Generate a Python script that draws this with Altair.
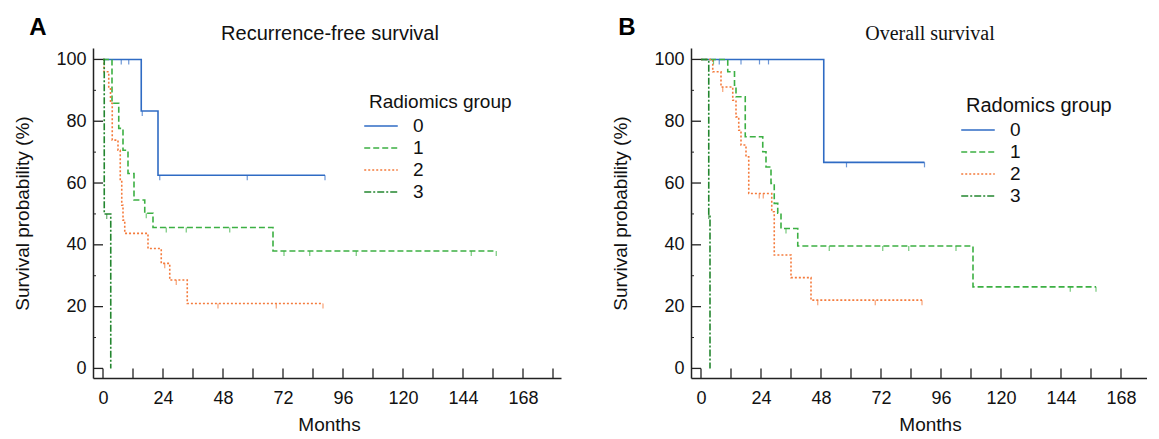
import altair as alt
import pandas as pd

# ---------------- data ----------------
GROUPS = ["0", "1", "2", "3"]
COLORS = ["#2f6bc4", "#3cb043", "#f47b3c", "#23862f"]
DASHES = [[1, 0], [6, 3], [2, 2], [7, 2, 2, 2]]

X_TICKS = [0, 12, 24, 36, 48, 60, 72, 84, 96, 108, 120, 132, 144, 156, 168, 180]
X_LABELS = [0, 24, 48, 72, 96, 120, 144, 168]
Y_LABELS = [0, 20, 40, 60, 80, 100]
Y_MINOR = [10, 30, 50, 70, 90]

# Panel A: recurrence-free survival (months, survival %)
rfs0_t = [0, 15.3, 22.0, 88.8]
rfs0_s = [100, 83.3, 62.5, 62.5]
rfs1_t = [0, 3.6, 6.3, 8.0, 10.0, 12.4, 16.7, 20.0, 68.0, 157.3]
rfs1_s = [100, 85.8, 77.7, 70.6, 63.1, 54.5, 50.2, 45.6, 38.0, 38.0]
rfs2_t = [0, 0.4, 2.3, 3.0, 3.7, 6.0, 6.9, 7.5, 8.0, 8.7, 18.0, 23.3, 26.7, 33.7, 88.0]
rfs2_s = [100, 96.0, 91.1, 85.8, 73.9, 70.6, 60.9, 52.8, 48.0, 43.7, 38.8, 34.0, 28.6, 21.0, 21.0]
rfs3_t = [0, 0.5, 3.1]
rfs3_s = [100, 50, 0]

# censored observations
rfs0_ct = [7.3, 10.3, 15.7, 22.7, 57.7, 88.8]
rfs0_cs = [100, 100, 83.3, 62.5, 62.5, 62.5]
rfs1_ct = [17.3, 25.3, 33.3, 50.7, 72.4, 82.7, 101.3, 147.3, 157.3]
rfs1_cs = [50.2, 45.6, 45.6, 45.6, 38.0, 38.0, 38.0, 38.0, 38.0]
rfs2_ct = [24.7, 29.3, 46.0, 69.3, 88.0]
rfs2_cs = [34.0, 28.6, 21.0, 21.0, 21.0]
rfs3_ct = [1.5]
rfs3_cs = [50]

# Panel B: overall survival
os0_t = [0, 49.1, 89.4]
os0_s = [100, 66.7, 66.7]
os1_t = [0, 10.7, 13.4, 14.0, 17.7, 24.7, 26.0, 28.0, 29.3, 30.7, 32.0, 38.7, 108.8, 158.0]
os1_s = [100, 96.0, 91.7, 87.9, 75.0, 70.1, 65.2, 59.9, 53.4, 50.2, 45.3, 39.6, 26.4, 26.4]
os2_t = [0, 4.7, 8.0, 12.7, 14.0, 15.1, 16.0, 18.0, 19.1, 28.3, 29.3, 36.0, 44.0, 88.4]
os2_s = [100, 96.0, 91.1, 86.8, 81.4, 77.1, 72.3, 68.5, 56.6, 50.7, 36.7, 29.4, 22.1, 22.1]
os3_t = [0, 3.1, 3.6]
os3_s = [100, 50, 0]

os0_ct = [7.3, 16.0, 23.4, 27.0, 58.2, 89.4]
os0_cs = [100, 100, 100, 100, 66.7, 66.7]
os1_ct = [5.0, 34.0, 51.3, 72.7, 83.1, 102.0, 147.7, 158.0]
os1_cs = [100, 45.3, 39.6, 39.6, 39.6, 39.6, 26.4, 26.4]
os2_ct = [8.7, 23.3, 24.9, 46.7, 69.7, 88.4]
os2_cs = [91.1, 56.6, 56.6, 22.1, 22.1, 22.1]
os3_ct = [3.1]
os3_cs = [50]

# ---------------- styling ----------------
FONT = "Liberation Sans"
SERIF = "Liberation Serif"
AX = "#222222"
TXT = "#111111"
XMIN, YMIN, YMAX = -4, -3.1, 103.7
HEIGHT = 330


def frame(ts, ss):
    rows = []
    for g, t, s in zip(GROUPS, ts, ss):
        for i, (a, b) in enumerate(zip(t, s)):
            rows.append({"g": g, "t": a, "s": b, "i": i})
    return pd.DataFrame(rows)


def panel(steps, cens, title, title_font, title_x, legend_title, leg_font, tag, tag_x,
          width, xmax, xtitle_x, lx, ly):
    xs = alt.Scale(domain=[XMIN, xmax], nice=False, zero=False)
    ys = alt.Scale(domain=[YMIN, YMAX], nice=False, zero=False)
    cs = alt.Scale(domain=GROUPS, range=COLORS)
    ds = alt.Scale(domain=GROUPS, range=DASHES)
    leg = alt.Legend(
        title=legend_title, orient="none", legendX=lx, legendY=ly,
        titleFont=FONT, titleFontSize=leg_font, titleFontWeight="normal", titleColor=TXT,
        labelFont=FONT, labelFontSize=19, labelColor=TXT,
        symbolType="M-1.5,0H1.5", symbolSize=500, symbolStrokeWidth=1.6,
        labelOffset=20, rowPadding=0, titlePadding=2, padding=0,
    )
    x_axis = alt.Axis(
        values=X_LABELS, ticks=False, tickSize=0, grid=False, format="d",
        labelFont=FONT, labelFontSize=18, labelColor=TXT, labelPadding=11,
        title="Months", titleFont=FONT, titleFontSize=19, titleFontWeight="normal",
        titleColor=TXT, titlePadding=8, titleX=xtitle_x,
        domainColor=AX, domainWidth=1.5,
    )
    y_axis = alt.Axis(
        values=Y_LABELS, ticks=False, tickSize=0, grid=False, format="d",
        labelFont=FONT, labelFontSize=18, labelColor=TXT, labelPadding=7,
        title="Survival probability (%)", titleFont=FONT, titleFontSize=19,
        titleFontWeight="normal", titleColor=TXT, titlePadding=23,
        domainColor=AX, domainWidth=1.5,
    )
    line = alt.Chart(steps).mark_line(interpolate="step-after", strokeWidth=1.6).encode(
        x=alt.X("t:Q", scale=xs, axis=x_axis),
        y=alt.Y("s:Q", scale=ys, axis=y_axis),
        color=alt.Color("g:N", scale=cs, legend=leg),
        strokeDash=alt.StrokeDash("g:N", scale=ds, legend=leg),
        order="i:Q",
    )
    ticks = alt.Chart(cens).mark_tick(orient="vertical", size=5, thickness=1.2, yOffset=2.5).encode(
        x=alt.X("t:Q", scale=xs, axis=x_axis),
        y=alt.Y("s:Q", scale=ys, axis=y_axis),
        color=alt.Color("g:N", scale=cs, legend=None),
    )
    xt = alt.Chart(pd.DataFrame({"v": [v for v in X_TICKS if v <= xmax]})).mark_rule(
        color=AX, strokeWidth=1.3).encode(
        x=alt.X("v:Q", scale=xs, axis=x_axis), y=alt.datum(YMIN), y2=alt.datum(0))
    ytM = alt.Chart(pd.DataFrame({"v": Y_LABELS})).mark_rule(color=AX, strokeWidth=1.3).encode(
        y=alt.Y("v:Q", scale=ys, axis=y_axis), x=alt.datum(XMIN), x2=alt.datum(0))
    ytm = alt.Chart(pd.DataFrame({"v": Y_MINOR})).mark_rule(color=AX, strokeWidth=1.0).encode(
        y=alt.Y("v:Q", scale=ys, axis=y_axis), x=alt.datum(XMIN), x2=alt.datum(-2.8))
    lab = alt.Chart(pd.DataFrame({"tag": [tag]})).mark_text(
        font=FONT, fontSize=24, fontWeight="bold", align="center", baseline="alphabetic",
        color="#000").encode(text="tag:N", x=alt.value(tag_x), y=alt.value(-13))
    ttl = alt.Chart(pd.DataFrame({"ttl": [title]})).mark_text(
        font=title_font, fontSize=20, align="center", baseline="alphabetic",
        color=TXT).encode(text="ttl:N", x=alt.value(title_x), y=alt.value(-8))
    return alt.layer(line, ticks, xt, ytM, ytm, lab, ttl).properties(
        width=width, height=HEIGHT,
    )


rfs = panel(
    frame([rfs0_t, rfs1_t, rfs2_t, rfs3_t], [rfs0_s, rfs1_s, rfs2_s, rfs3_s]),
    frame([rfs0_ct, rfs1_ct, rfs2_ct, rfs3_ct], [rfs0_cs, rfs1_cs, rfs2_cs, rfs3_cs]),
    "Recurrence-free survival", FONT, 237, "Radiomics group", 19, "A", -55,
    468, 183.2, 236, 276, 45,
)
os_ = panel(
    frame([os0_t, os1_t, os2_t, os3_t], [os0_s, os1_s, os2_s, os3_s]),
    frame([os0_ct, os1_ct, os2_ct, os3_ct], [os0_cs, os1_cs, os2_cs, os3_cs]),
    "Overall survival", SERIF, 239, "Radomics group", 20, "B", -64,
    456, 178.4, 239, 275, 48,
)

chart = alt.hconcat(rfs, os_, spacing=130, bounds="flush").resolve_scale(
    color="independent", strokeDash="independent"
).resolve_legend(
    color="independent", strokeDash="independent"
).properties(
    padding={"left": 5, "top": 8, "right": 0, "bottom": 0}
).configure_view(stroke=None)

chart.save("out.html", embed_options={"renderer": "svg", "actions": False})
